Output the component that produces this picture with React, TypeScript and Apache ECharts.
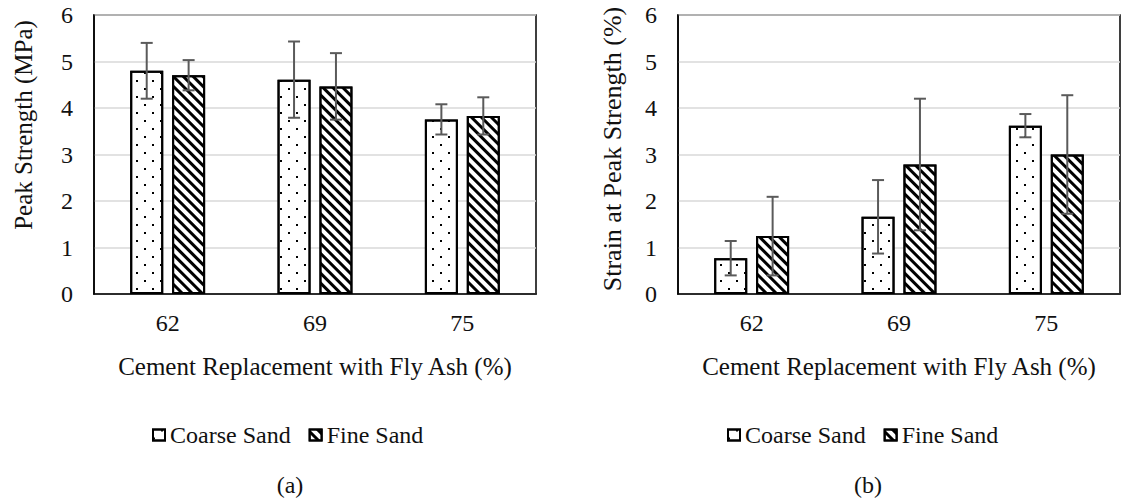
import React, { useEffect, useRef } from "react";
import * as echarts from "echarts";

// Fly ash replacement levels (%)
const categories = ["62", "69", "75"];

// (a) peak strength, MPa
const strengthCoarse = [4.8, 4.61, 3.755];
const strengthCoarseErr = [0.6, 0.82, 0.325];
const strengthFine = [4.705, 4.465, 3.83];
const strengthFineErr = [0.325, 0.715, 0.4];

// (b) strain at peak strength, %
const strainCoarse = [0.77, 1.66, 3.62];
const strainCoarseErr = [0.37, 0.79, 0.25];
const strainFine = [1.245, 2.785, 3.0];
const strainFineErr = [0.845, 1.415, 1.275];

const yTicks = { min: 0, max: 6, interval: 1 };
const seriesNames = ["Coarse Sand", "Fine Sand"];

const FONT = "Liberation Serif";
const TEXT = "#111";

const dotDecal = {
  symbol: "rect",
  symbolSize: 1,
  color: "#000",
  backgroundColor: "#fff",
  dashArrayX: [
    [2, 14],
    [0, 8, 2, 6],
  ],
  dashArrayY: [2, 6],
  rotation: 0,
};

const stripeDecal = {
  symbol: "rect",
  symbolSize: 1,
  color: "#000",
  backgroundColor: "#fff",
  dashArrayX: [1, 0],
  dashArrayY: [3, 4],
  rotation: Math.PI / 4,
};

const BAR_W = 33;
const BAR_GAP = "27%";
const HALF_STEP = (BAR_W + BAR_W * 0.27) / 2;

function errorSeries(
  grid: number,
  means: number[],
  errs: number[],
  offset: number
) {
  return {
    type: "custom",
    xAxisIndex: grid,
    yAxisIndex: grid,
    z: 10,
    silent: true,
    data: means.map((m, i) => [i, m, errs[i]]),
    renderItem: (_params: any, api: any) => {
      const idx = api.value(0);
      const mean = api.value(1);
      const err = api.value(2);
      const top = api.coord([idx, mean + err]);
      const bottom = api.coord([idx, mean - err]);
      const x = top[0] + offset;
      const cap = 6;
      const style = { stroke: "#5a5a5a", lineWidth: 2 };
      return {
        type: "group",
        children: [
          { type: "line", shape: { x1: x, y1: top[1], x2: x, y2: bottom[1] }, style },
          { type: "line", shape: { x1: x - cap, y1: top[1], x2: x + cap, y2: top[1] }, style },
          { type: "line", shape: { x1: x - cap, y1: bottom[1], x2: x + cap, y2: bottom[1] }, style },
        ],
      };
    },
  };
}

function barSeries(grid: number, name: string, values: number[], decal: any) {
  return {
    type: "bar",
    name,
    xAxisIndex: grid,
    yAxisIndex: grid,
    barWidth: BAR_W,
    barGap: BAR_GAP,
    data: values,
    itemStyle: {
      color: "#fff",
      borderColor: "#000",
      borderWidth: 2,
      decal,
    },
  };
}

function xAxis(grid: number) {
  return {
    type: "category",
    gridIndex: grid,
    data: categories,
    axisLine: { show: true, lineStyle: { color: "#000", width: 1.5 } },
    axisTick: { show: false },
    axisLabel: { margin: 17, fontSize: 24, fontFamily: FONT, color: TEXT },
    name: "Cement Replacement with Fly Ash (%)",
    nameLocation: "middle",
    nameGap: 60,
    nameTextStyle: { fontSize: 25, fontFamily: FONT, color: TEXT },
  };
}

function yAxis(grid: number) {
  return {
    type: "value",
    gridIndex: grid,
    min: yTicks.min,
    max: yTicks.max,
    interval: yTicks.interval,
    axisLine: { show: true, lineStyle: { color: "#000", width: 1.5 } },
    axisTick: { show: false },
    splitLine: { show: true, lineStyle: { color: "#d9d9d9", width: 1.5 } },
    axisLabel: { margin: 21, fontSize: 24, fontFamily: FONT, color: TEXT },
  };
}

function legend(left: number) {
  return {
    data: seriesNames,
    left,
    top: 418,
    icon: "rect",
    itemWidth: 12,
    itemHeight: 11,
    itemGap: 18,
    textStyle: { fontSize: 24, fontFamily: FONT, color: TEXT },
  };
}

function label(text: string, x: number, y: number, size: number, rotation = 0) {
  return {
    type: "text",
    x,
    y,
    rotation,
    style: {
      text,
      font: `${size}px ${FONT}`,
      fill: TEXT,
      align: "center",
      verticalAlign: "middle",
    },
  };
}

export default function App() {
  const ref = useRef<HTMLDivElement>(null);

  useEffect(() => {
    if (!ref.current) return;
    const chart = echarts.init(ref.current, undefined, { renderer: "svg" });
    chart.setOption({
      animation: false,
      backgroundColor: "#fff",
      textStyle: { fontFamily: FONT, fontSize: 24, color: TEXT },
      grid: [
        { left: 94, top: 15, width: 442, height: 279, show: true, borderColor: "#000", borderWidth: 1.5 },
        { left: 678, top: 15, width: 442, height: 279, show: true, borderColor: "#000", borderWidth: 1.5 },
      ],
      xAxis: [xAxis(0), xAxis(1)],
      yAxis: [yAxis(0), yAxis(1)],
      legend: [legend(147), legend(722)],
      series: [
        barSeries(0, seriesNames[0], strengthCoarse, dotDecal),
        barSeries(0, seriesNames[1], strengthFine, stripeDecal),
        barSeries(1, seriesNames[0], strainCoarse, dotDecal),
        barSeries(1, seriesNames[1], strainFine, stripeDecal),
        errorSeries(0, strengthCoarse, strengthCoarseErr, -HALF_STEP),
        errorSeries(0, strengthFine, strengthFineErr, HALF_STEP),
        errorSeries(1, strainCoarse, strainCoarseErr, -HALF_STEP),
        errorSeries(1, strainFine, strainFineErr, HALF_STEP),
      ],
      graphic: [
        label("Peak Strength (MPa)", 23, 125, 25, Math.PI / 2),
        label("Strain at Peak Strength (%)", 612, 149, 26, Math.PI / 2),
        label("(a)", 290, 485, 24),
        label("(b)", 868, 485, 24),
      ],
    });
    return () => chart.dispose();
  }, []);

  return (
    <div
      ref={ref}
      style={{ position: "fixed", left: 0, top: 0, width: 1122, height: 504 }}
    />
  );
}
